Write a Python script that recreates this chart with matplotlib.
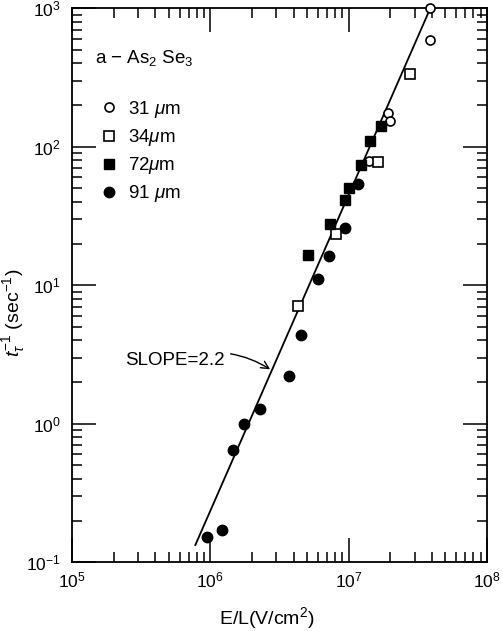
import matplotlib
matplotlib.use("Agg")
import matplotlib.pyplot as plt
from matplotlib.ticker import LogLocator, NullFormatter

plt.rcParams['font.family'] = ['Liberation Sans', 'DejaVu Sans']
plt.rcParams['mathtext.fontset'] = 'custom'
plt.rcParams['mathtext.rm'] = 'Liberation Sans'
plt.rcParams['mathtext.it'] = 'Liberation Sans:italic'

# data (E/L in V/cm^2, 1/t_tau in 1/sec)
x_31 = [3.9e7, 3.9e7, 1.94e7, 1.99e7, 1.41e7]
y_31 = [1000, 590, 174, 153, 79]

x_34 = [2.8e7, 1.64e7, 8.1e6, 4.33e6]
y_34 = [337, 77, 23.6, 7.1]

x_72 = [1.71e7, 1.43e7, 1.23e7, 1.01e7, 9.4e6, 7.35e6, 5.1e6]
y_72 = [141, 110, 74, 50, 41, 27.5, 16.5]

x_91 = [1.17e7, 9.5e6, 7.2e6, 6.0e6, 4.5e6, 3.7e6, 2.3e6, 1.76e6, 1.45e6, 1.22e6, 9.5e5]
y_91 = [54, 26, 16.2, 11.0, 4.4, 2.2, 1.28, 1.0, 0.645, 0.172, 0.152]

# fitted line, slope 2.2
fit_x = [7.8e5, 3.9e7]
fit_y = [0.133, 1000]

fig = plt.figure(figsize=(5.03, 6.31), dpi=100)
ax = fig.add_axes([0.143, 0.109, 0.825, 0.878])

ax.plot(fit_x, fit_y, color='k', lw=1.3, zorder=2)

ax.plot(x_31, y_31, 'o', ms=6.5, mfc='white', mec='k', mew=1.2, ls='none', label=r'31 $\mu$m', zorder=3, clip_on=False)
ax.plot(x_34, y_34, 's', ms=6.5, mfc='white', mec='k', mew=1.2, ls='none', label=r'34$\mu$m', zorder=3)
ax.plot(x_72, y_72, 's', ms=7, mfc='k', mec='k', ls='none', label=r'72$\mu$m', zorder=3)
ax.plot(x_91, y_91, 'o', ms=7.5, mfc='k', mec='k', ls='none', label=r'91 $\mu$m', zorder=3)

ax.set_xscale('log')
ax.set_yscale('log')
ax.set_xlim(1e5, 1e8)
ax.set_ylim(1e-1, 1e3)

ax.xaxis.set_minor_locator(LogLocator(base=10, subs=range(2, 10), numticks=20))
ax.yaxis.set_minor_locator(LogLocator(base=10, subs=range(2, 10), numticks=20))
ax.xaxis.set_minor_formatter(NullFormatter())
ax.yaxis.set_minor_formatter(NullFormatter())

ax.tick_params(which='both', direction='in', top=True, right=True, width=1.1)
ax.tick_params(which='major', length=17, labelsize=12.5)
ax.tick_params(which='minor', length=7)
ax.tick_params(axis='y', which='major', pad=8)
ax.tick_params(axis='x', which='major', pad=6)
for s in ax.spines.values():
    s.set_linewidth(1.3)

ax.set_xlabel('E/L(V/cm$^2$)', fontsize=14)
ax.set_ylabel(r'$t_\tau^{-1}$ (sec$^{-1}$)', fontsize=14)
ax.xaxis.set_label_coords(0.47, -0.078)
ax.yaxis.set_label_coords(-0.108, 0.45)

ax.text(0.055, 0.91, r'a $-$ As$_2$ Se$_3$', transform=ax.transAxes, fontsize=13.5, va='center', ha='left')

ax.legend(loc='upper left', bbox_to_anchor=(0.044, 0.853), frameon=False, borderpad=0,
          handlelength=1.0, handletextpad=0.5, labelspacing=0.38, fontsize=13.5, numpoints=1)

ax.annotate('SLOPE=2.2', xy=(2.71e6, 2.47), xytext=(1.28e6, 2.87), fontsize=13.5,
            ha='right', va='center',
            arrowprops=dict(arrowstyle='->', color='k', lw=1.0,
                            connectionstyle='arc3,rad=-0.25', shrinkA=2, shrinkB=0))

fig.savefig('out.png', dpi=100)
